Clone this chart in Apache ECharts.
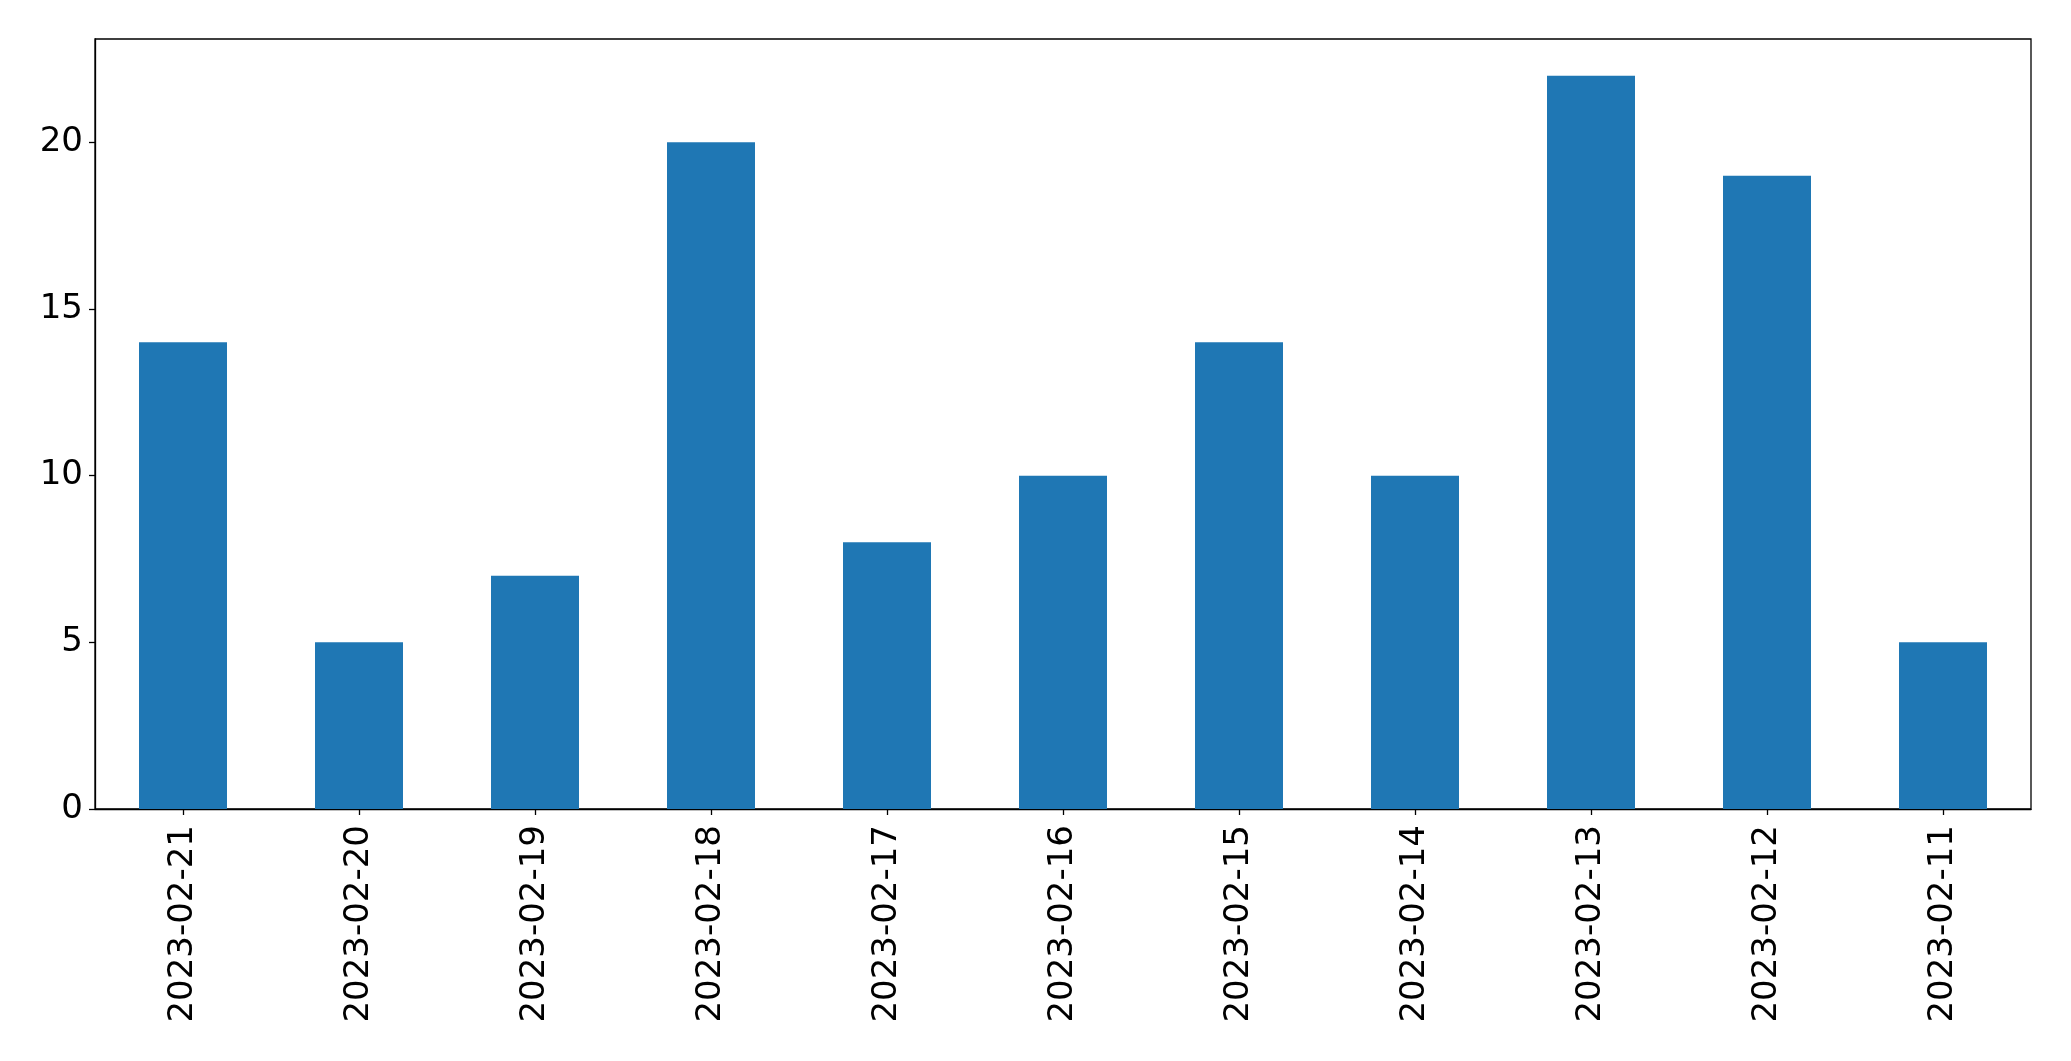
<!DOCTYPE html>
<html>
<head>
<meta charset="utf-8">
<script src="https://cdn.jsdelivr.net/npm/echarts@6/dist/echarts.min.js"></script>
<style>html,body{margin:0;padding:0;background:#fff}#c{width:2071px;height:1061px}</style>
</head>
<body>
<div id="c"></div>
<script>
const categories = ['2023-02-21','2023-02-20','2023-02-19','2023-02-18','2023-02-17','2023-02-16','2023-02-15','2023-02-14','2023-02-13','2023-02-12','2023-02-11'];
const values = [14, 5, 7, 20, 8, 10, 14, 10, 22, 19, 5];
const yTicks = [0, 5, 10, 15, 20];

const chart = echarts.init(document.getElementById('c'));
const font = 'DejaVu Sans';
chart.setOption({
  animation: false,
  grid: {left: 95, right: 40, top: 39, bottom: 252, show: true, borderColor: '#000', borderWidth: 1.3, backgroundColor: 'transparent'},
  xAxis: {
    type: 'category',
    data: categories,
    boundaryGap: true,
    axisLine: {show: true, lineStyle: {color: '#000', width: 1.3}},
    axisTick: {show: true, alignWithLabel: true, length: 6, lineStyle: {color: '#000', width: 1.3}},
    axisLabel: {rotate: 90, color: '#000', fontFamily: font, fontSize: 34, margin: 16, interval: 0},
    splitLine: {show: false}
  },
  yAxis: {
    type: 'value',
    min: 0,
    max: 23.1,
    interval: 5,
    axisLine: {show: true, lineStyle: {color: '#000', width: 1.3}},
    axisTick: {show: true, length: 6, lineStyle: {color: '#000', width: 1.3}, customValues: yTicks},
    axisLabel: {color: '#000', fontFamily: font, fontSize: 34, margin: 12, customValues: yTicks},
    splitLine: {show: false}
  },
  series: [{
    type: 'bar',
    data: values,
    barWidth: '50%',
    itemStyle: {color: '#1f77b4'}
  }]
});
</script>
</body>
</html>
